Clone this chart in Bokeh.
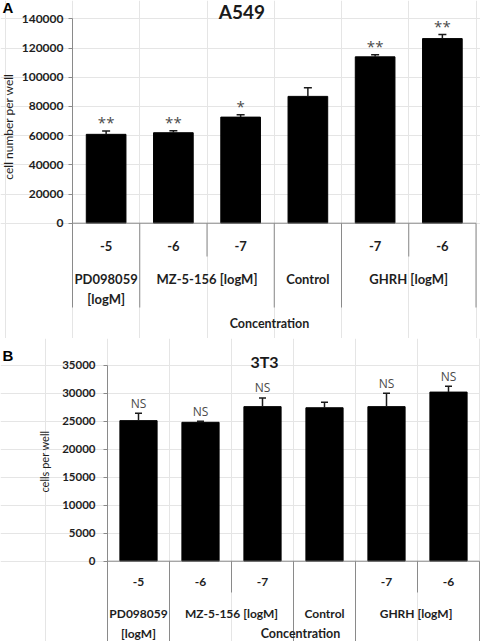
import numpy as np
from bokeh.plotting import figure
from bokeh.models import Range1d, LinearAxis, FixedTicker, BasicTickFormatter, ColumnDataSource
from bokeh.layouts import column
from bokeh.embed import file_html
from bokeh.resources import INLINE
from bokeh.core.properties import value

# ---------------- data ----------------
sub_labels = ["-5", "-6", "-7", "", "-7", "-6"]
group_labels_a = ["PD098059\n[logM]", "MZ-5-156 [logM]", "Control", "GHRH [logM]"]
group_labels_b = ["PD098059\n[logM]", "MZ-5-156 [logM]", "Control", "GHRH  [logM]"]
group_spans = [1, 2, 1, 2]

a549_values = [60900, 62000, 72700, 86900, 114000, 126500]
a549_errors = [2300, 1300, 1600, 6000, 1500, 2800]
a549_marks = ["**", "**", "*", "", "**", "**"]
a549_ticks = [0, 20000, 40000, 60000, 80000, 100000, 120000, 140000]

t3_values = [25100, 24800, 27600, 27400, 27600, 30200]
t3_errors = [1300, 200, 1550, 1000, 2400, 1050]
t3_marks = ["NS", "NS", "NS", "", "NS", "NS"]
t3_ticks = [0, 5000, 10000, 15000, 20000, 25000, 30000, 35000]

FONT = "Lato"
GRAY = "#8a8a8a"
TXT = "#1e1e1e"
W = 480


def make_panel(values, errors, marks, ticks, groups, ylabel, title, letter, L):
    n = len(values)
    H = L["height"]
    cat = L["cat_px"]
    x0 = L["x0_px"]
    ytop = ticks[-1]
    upy = ytop / (L["zero_px"] - L["top_px"])

    def fx(px):
        return (px - x0) / cat

    def fy(px):
        return (L["zero_px"] - px) * upy

    def below(px):
        return -px * upy

    p = figure(width=W, height=H, x_range=Range1d(fx(0), fx(W)), y_range=Range1d(fy(H), fy(0)),
               toolbar_location=None, output_backend="svg",
               min_border_left=0, min_border_right=0, min_border_top=0, min_border_bottom=0,
               x_axis_location=None, y_axis_location=None)
    p.outline_line_color = None
    p.background_fill_color = "white"
    p.border_fill_color = "white"

    ax = LinearAxis(bounds=(0, ytop), ticker=FixedTicker(ticks=ticks),
                    formatter=BasicTickFormatter(use_scientific=False), fixed_location=0)
    ax.axis_line_color = GRAY
    ax.major_tick_line_color = GRAY
    ax.major_tick_in = 0
    ax.major_tick_out = L["tick_out"]
    ax.minor_tick_line_color = None
    ax.major_label_text_font = FONT
    ax.major_label_text_font_style = "bold"
    ax.major_label_text_font_size = L["tick_size"]
    ax.major_label_text_color = TXT
    ax.major_label_standoff = L["tick_standoff"]
    p.add_layout(ax, "left")

    xs = np.arange(n) + 0.5
    vals = np.array(values, dtype=float)
    errs = np.array(errors, dtype=float)
    cap = L["cap_px"] / cat
    src = ColumnDataSource(dict(x=xs, top=vals, etop=vals + errs, mark=marks, sub=sub_labels,
                                cl=xs - cap, cr=xs + cap))

    p.vbar(x="x", top="top", bottom=0, width=L["bar_w"], source=src,
           fill_color="black", line_color="black")
    p.segment(x0="x", y0="top", x1="x", y1="etop", source=src, line_color="#1a1a1a", line_width=1.5)
    p.segment(x0="cl", y0="etop", x1="cr", y1="etop", source=src, line_color="#1a1a1a", line_width=1.5)

    # baseline and category table
    p.segment(x0=[0], y0=[0], x1=[n], y1=[0], line_color=GRAY, line_width=1)
    bounds = np.cumsum([0] + group_spans)
    inner = [b for b in range(n + 1) if b not in set(bounds.tolist())]
    p.segment(x0=bounds, y0=0, x1=bounds, y1=below(L["long_px"]), line_color=GRAY, line_width=1)
    p.segment(x0=inner, y0=0, x1=inner, y1=below(L["short_px"]), line_color=GRAY, line_width=1)

    p.text(x="x", y=below(L["sub_px"]), text="sub", source=src, text_align="center",
           text_baseline="middle", text_font=value(FONT), text_font_style="bold",
           text_font_size=L["cat_size"], text_color=TXT)
    centers = bounds[:-1] + np.array(group_spans) / 2.0
    p.text(x=centers, y=below(L["group_px"]), text=groups, text_align="center",
           text_baseline="top", text_font=value(FONT), text_font_style="bold",
           text_font_size=L["cat_size"], text_color=TXT, text_line_height=L["line_h"])
    p.text(x=[fx(L["conc_x"])], y=[below(L["conc_px"])], text=["Concentration"],
           text_align="center", text_baseline="middle", text_font=value(FONT),
           text_font_style="bold", text_font_size=L["conc_size"], text_color=TXT)

    # significance marks
    p.text(x="x", y="etop", text="mark", source=src, text_align="center",
           text_baseline="alphabetic", y_offset=-L["mark_gap"], text_font=value("Open Sans"),
           text_font_size=L["mark_size"], text_color="#4a4a4a")

    # y label, title, panel letter
    p.text(x=[fx(L["ylab_x"])], y=[fy(L["ylab_y"])], text=[ylabel], angle=np.pi / 2,
           text_align="center", text_baseline="middle", text_font=value(FONT),
           text_font_size=L["ylab_size"], text_color=TXT)
    p.text(x=[fx(L["title_x"])], y=[fy(L["title_y"])], text=[title], text_align="center",
           text_baseline="middle", text_font=value(FONT), text_font_style="bold",
           text_font_size=L["title_size"], text_color="#1a1a1a")
    p.text(x=[fx(L["letter_x"])], y=[fy(L["letter_y"])], text=[letter], text_align="left",
           text_baseline="middle", text_font=value("Liberation Sans"), text_font_style="bold",
           text_font_size="15px", text_color="black")
    return p


LA = dict(height=338, x0_px=72, cat_px=67.25, top_px=18.4, zero_px=222.7, bar_w=0.59, cap_px=4,
          tick_out=4, tick_standoff=5, tick_size="12px", ylab_size="12px", ylab_x=8, ylab_y=126,
          cat_size="13px", conc_size="12.5px", mark_size="15px", title_size="19px",
          sub_px=22.3, short_px=33.3, group_px=47.5, line_h=1.25, long_px=84.3,
          conc_px=100.3, conc_x=269, mark_gap=8.5, title_x=241.5, title_y=11,
          letter_x=2, letter_y=7)
LB = dict(height=303, x0_px=107, cat_px=62.0, top_px=26.7, zero_px=222.7, bar_w=0.6, cap_px=3.5,
          tick_out=4, tick_standoff=8, tick_size="11.5px", ylab_size="11px", ylab_x=44, ylab_y=123,
          cat_size="12px", conc_size="12.5px", mark_size="12px", title_size="16px",
          sub_px=20.3, short_px=31.3, group_px=44.3, line_h=1.38, long_px=80.3,
          conc_px=72, conc_x=300, mark_gap=10, title_x=264, title_y=23,
          letter_x=2, letter_y=17)

pa = make_panel(a549_values, a549_errors, a549_marks, a549_ticks, group_labels_a,
                "cell number per well", "A549", "A", LA)
pb = make_panel(t3_values, t3_errors, t3_marks, t3_ticks, group_labels_b,
                "cells per well", "3T3", "B", LB)

layout = column(pa, pb)
open("out.html", "w").write(file_html(layout, INLINE))
